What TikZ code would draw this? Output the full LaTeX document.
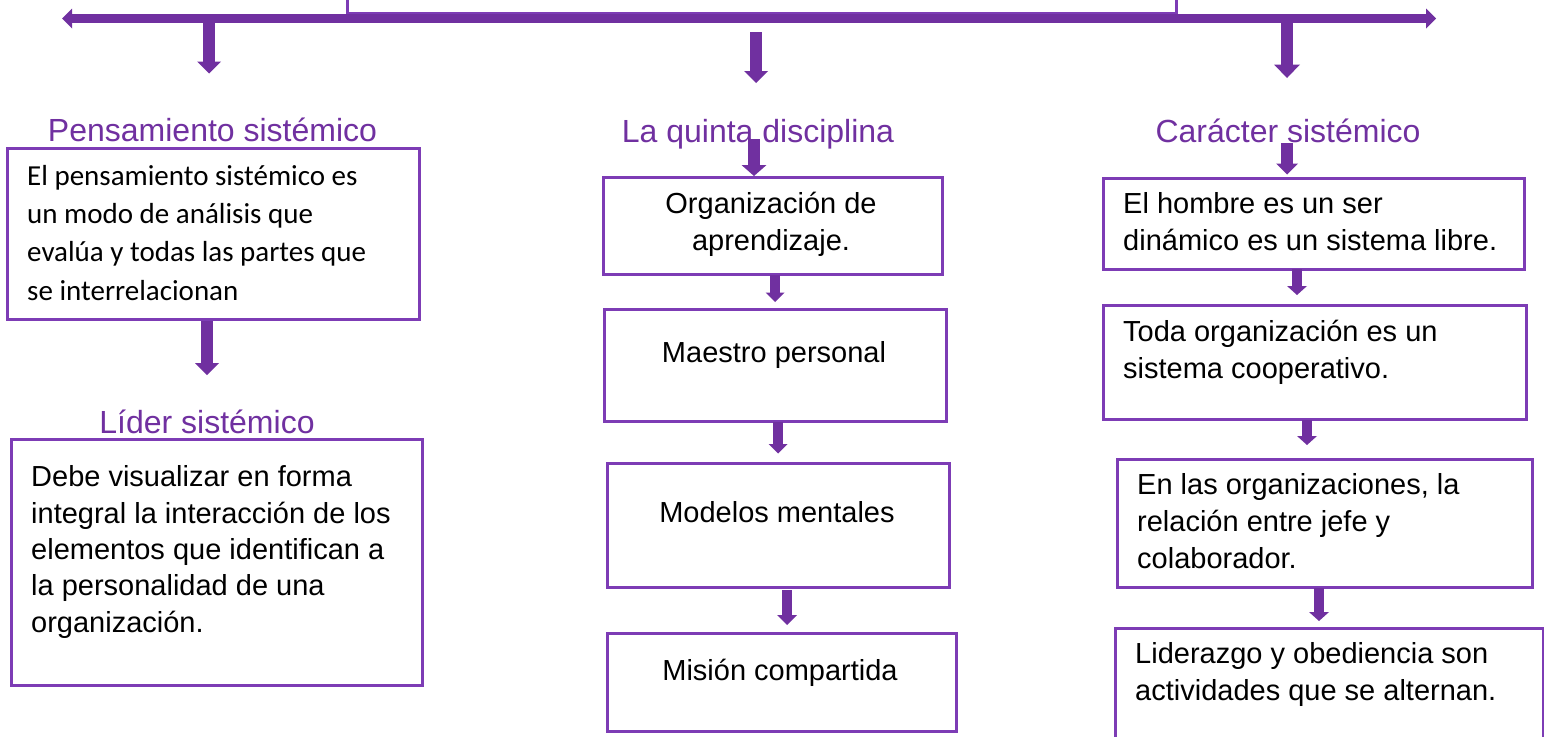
\documentclass[tikz,border=0pt]{standalone}
\usepackage{fontspec}
\setmainfont{Liberation Sans}
\newfontfamily\calibrifont{Carlito}
\usetikzlibrary{arrows.meta}
\definecolor{purp}{HTML}{7030A0}
\definecolor{boxpurp}{HTML}{7D3CB5}
\begin{document}
\begin{tikzpicture}[x=1pt,y=-1pt,
  box/.style={draw=boxpurp, line width=2.5pt, inner sep=0pt, anchor=north west},
  headtxt/.style={text=purp, font=\fontsize{32}{38}\selectfont, inner sep=0pt, anchor=base},
  bodytxt/.style={font=\fontsize{29}{36.6}\selectfont, inner sep=0pt, align=left, anchor=base west},
  bodyctr/.style={font=\fontsize{29}{36.6}\selectfont, inner sep=0pt, align=center, anchor=base},
  bigarrow/.style={draw=purp, line width=11.5pt, -{Triangle[width=24pt,length=12pt,line width=0pt]}},
  smallarrow/.style={draw=purp, line width=10.5pt, -{Triangle[width=19pt,length=9.5pt,line width=0pt]}},
  dblarrow/.style={draw=purp, line width=9pt, {Triangle[width=20pt,length=10pt,line width=0pt]}-{Triangle[width=20pt,length=10pt,line width=0pt]}}
]
\useasboundingbox (0,0) rectangle (1544,736);
\fill[white] (0,0) rectangle (1544,736);
\clip (0,0) rectangle (1544,736);

% top box (cut off)
\node[box, minimum width=829pt, minimum height=30pt] (top) at (346,-18) {};

% main horizontal arrow
\coordinate (hl) at (62,18.5);
\coordinate (hr) at (1436,18.5);
\draw[dblarrow] (hl) -- (hr);

% headings
\node[headtxt] (h1) at (212.5,141) {Pensamiento sistémico};
\node[headtxt] (h2) at (758,142) {La quinta disciplina};
\node[headtxt] (h3) at (1288,142) {Carácter sistémico};
\node[headtxt] (h4) at (207,433) {Líder sistémico};

% arrows from main line
\coordinate (d1s) at (209,23); \coordinate (d1e) at (209,73.5);
\coordinate (d2s) at (756,32); \coordinate (d2e) at (756,83);
\coordinate (d3s) at (1287,23); \coordinate (d3e) at (1287,78);
\draw[bigarrow] (d1s) -- (d1e);
\draw[bigarrow] (d2s) -- (d2e);
\draw[bigarrow,-{Triangle[width=26pt,length=13.5pt,line width=0pt]}] (d3s) -- (d3e);

% left column (text nodes anchored at the baseline of their last line)
\node[box, minimum width=412pt, minimum height=171pt] (l1) at (6,147) {};
\node[bodytxt, font=\calibrifont\fontsize{29}{38.3}\selectfont] (l1t) at (27,300)
  {El pensamiento sistémico es\\un modo de análisis que\\evalúa y todas las partes que\\se interrelacionan};
\coordinate (l1a) at (207,321);
\coordinate (l1b) at (207,375);
\draw[bigarrow] (l1a) -- (l1b);
\node[box, minimum width=411pt, minimum height=246pt] (l2) at (10,438) {};
\node[bodytxt, font=\fontsize{29}{36.3}\selectfont] (l2t) at (31,632)
  {Debe visualizar en forma\\integral la interacción de los\\elementos que identifican a\\la personalidad de una\\organización.};

% middle column
\node[box, minimum width=339pt, minimum height=97pt] (m1) at (602,176) {};
\node[bodyctr] (m1t) at (771,250) {Organización de\\aprendizaje.};
\node[box, minimum width=342pt, minimum height=112pt] (m2) at (603,308) {};
\node[bodyctr] (m2t) at (774,362) {Maestro personal};
\node[box, minimum width=342pt, minimum height=124pt] (m3) at (606,462) {};
\node[bodyctr] (m3t) at (777,522) {Modelos mentales};
\node[box, minimum width=349pt, minimum height=98pt] (m4) at (606,632) {};
\node[bodyctr] (m4t) at (780,680) {Misión compartida};
\coordinate (ma) at (754,139);
\draw[bigarrow, -{Triangle[width=25pt,length=11pt,line width=0pt]}] (ma) -- (m1.north -| ma);
\draw[smallarrow] (775,274.5) coordinate (mbs) -- (775,302) coordinate (mbe);
\draw[smallarrow] (778,421.5) coordinate (mcs) -- (778,453.5) coordinate (mce);
\draw[smallarrow, -{Triangle[width=20pt,length=10pt,line width=0pt]}] (787,590) coordinate (mds) -- (787,625) coordinate (mde);

% right column
\node[box, minimum width=421pt, minimum height=91pt] (r1) at (1102,177) {};
\node[bodytxt] (r1t) at (1123,250) {El hombre es un ser\\dinámico es un sistema libre.};
\node[box, minimum width=423pt, minimum height=114pt] (r2) at (1102,304) {};
\node[bodytxt] (r2t) at (1123,378.3) {Toda organización es un\\sistema cooperativo.};
\node[box, minimum width=415pt, minimum height=128pt] (r3) at (1116,458) {};
\node[bodytxt] (r3t) at (1137,568) {En las organizaciones, la\\relación entre jefe y\\colaborador.};
\node[box, minimum width=428pt, minimum height=130pt] (r4) at (1114,627) {};
\node[bodytxt] (r4t) at (1135,700) {Liderazgo y obediencia son\\actividades que se alternan.};
\draw[bigarrow, -{Triangle[width=22pt,length=11pt,line width=0pt]}] (1287,143) coordinate (ras) -- (1287,174.5) coordinate (rae);
\draw[smallarrow, -{Triangle[width=20pt,length=9pt,line width=0pt]}] (1297,269) coordinate (rbs) -- (1297,295) coordinate (rbe);
\draw[smallarrow, -{Triangle[width=20pt,length=9pt,line width=0pt]}] (1307,420) coordinate (rcs) -- (1307,445) coordinate (rce);
\draw[smallarrow, -{Triangle[width=20pt,length=9pt,line width=0pt]}] (1319,588) coordinate (rds) -- (1319,621) coordinate (rde);
\end{tikzpicture}
\end{document}
